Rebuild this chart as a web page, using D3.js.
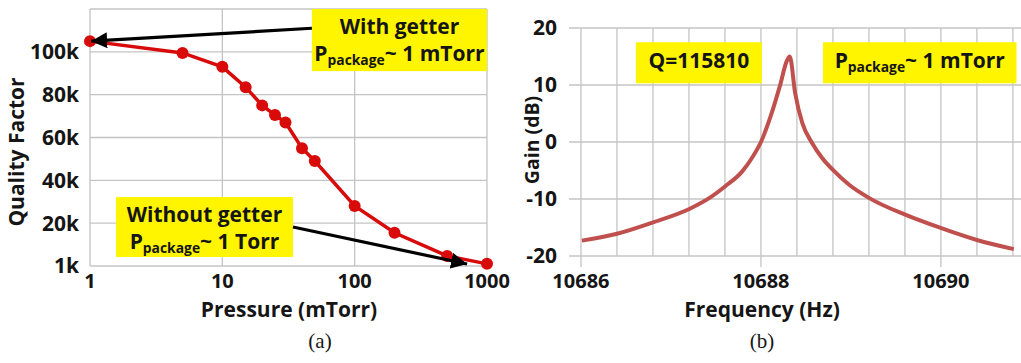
<!DOCTYPE html>
<html>
<head>
<meta charset="utf-8">
<script src="https://cdn.jsdelivr.net/npm/d3@7"></script>
<style>
  body { margin: 0; background: #fff; }
  svg text { font-family: "Open Sans", Lato, sans-serif; font-weight: bold; fill: #151515; }
  .cap { font-family: "Liberation Serif", "DejaVu Serif", serif; font-weight: normal; }
</style>
</head>
<body>
<svg id="chart" width="1021" height="363"></svg>
<script>
// (a) quality factor vs pressure
var pressure = [1, 5, 10, 15, 20, 25, 30, 40, 50, 100, 200, 500, 1000];
var quality = [105000, 99500, 93000, 83500, 75000, 70500, 67000, 55000, 49000, 28000, 15500, 4700, 1000];
var qTicks = [0, 20000, 40000, 60000, 80000, 100000, 120000];
var qTickLabels = ['1k', '20k', '40k', '60k', '80k', '100k', ''];
var pTicks = [1, 10, 100, 1000];

// (b) gain vs frequency
var freq = [10686.01, 10686.4, 10686.8, 10687.21, 10687.42, 10687.6, 10687.79, 10687.9, 10688.0,
            10688.12, 10688.21, 10688.29, 10688.32, 10688.38, 10688.46, 10688.57, 10688.68,
            10688.8, 10688.98, 10689.2, 10689.61, 10690.0, 10690.4, 10690.81];
var gain = [-17.3, -16.1, -14.1, -11.7, -9.9, -7.8, -5.2, -2.8, 0,
            5.1, 9.8, 14.3, 15.0, 8.6, 3.3, -0.2, -2.8,
            -4.9, -7.5, -9.8, -12.8, -15.1, -17.2, -18.8];
var gainTicks = [-20, -10, 0, 10, 20];
var freqTicks = [10686, 10688, 10690];

var svg = d3.select('#chart');
var YELLOW = '#fff500';
var GRID = '#c4c4c4';
var FS = 21;
var TICK_FS = 20;

svg.append('defs').append('marker')
    .attr('id', 'head')
    .attr('viewBox', '0 0 10 10')
    .attr('refX', 10).attr('refY', 5)
    .attr('markerWidth', 5).attr('markerHeight', 5)
    .attr('markerUnits', 'strokeWidth')
    .attr('orient', 'auto')
  .append('path').attr('d', 'M0,0L10,5L0,10z').attr('fill', '#000');

// helper for the "Ppackage~ ..." label
function pLabel(sel, tail) {
    sel.append('tspan').text('P');
    sel.append('tspan').attr('font-size', '0.66em').attr('dy', 4).text('package');
    sel.append('tspan').attr('dy', -4).text('~ ' + tail);
}

// ---------- chart (a) ----------
var xA = d3.scaleLog().domain([1, 1000]).range([90, 487]);
var yA = d3.scaleLinear().domain([0, 120000]).range([266, 9]);
var gA = svg.append('g');

gA.selectAll('.hg').data(qTicks).enter().append('line')
    .attr('x1', xA(1)).attr('x2', xA(1000))
    .attr('y1', d => yA(d)).attr('y2', d => yA(d))
    .attr('stroke', GRID).attr('stroke-width', 1.3);
gA.selectAll('.vg').data(pTicks).enter().append('line')
    .attr('x1', d => xA(d)).attr('x2', d => xA(d))
    .attr('y1', yA(0)).attr('y2', yA(120000))
    .attr('stroke', GRID).attr('stroke-width', 1.3);

gA.selectAll('.yl').data(qTicks).enter().append('text')
    .attr('x', 79).attr('y', d => yA(d)).attr('dy', '0.35em')
    .attr('text-anchor', 'end').attr('font-size', FS)
    .text((d, i) => qTickLabels[i]);
gA.selectAll('.xl').data(pTicks).enter().append('text')
    .attr('x', d => xA(d)).attr('y', 281).attr('dy', '0.35em')
    .attr('text-anchor', 'middle').attr('font-size', TICK_FS)
    .text(d => d);

gA.append('text').attr('x', 289).attr('y', 310).attr('dy', '0.35em')
    .attr('text-anchor', 'middle').attr('font-size', FS).text('Pressure (mTorr)');
gA.append('text').attr('transform', 'translate(17,152)rotate(-90)').attr('dy', '0.35em')
    .attr('text-anchor', 'middle').attr('font-size', FS).text('Quality Factor');
gA.append('text').attr('class', 'cap').attr('x', 320).attr('y', 341).attr('dy', '0.35em')
    .attr('text-anchor', 'middle').attr('font-size', 21).text('(a)');

var lineA = d3.line().x((d, i) => xA(pressure[i])).y(d => yA(d));
gA.append('path').datum(quality)
    .attr('d', lineA).attr('fill', 'none')
    .attr('stroke', '#d80a0a').attr('stroke-width', 3.5);
gA.selectAll('.pt').data(quality).enter().append('circle')
    .attr('cx', (d, i) => xA(pressure[i])).attr('cy', d => yA(d))
    .attr('r', 6).attr('fill', '#d80a0a');

// annotation boxes (a)
var boxA1 = {x0: 47.5, x1: 1000, y0: 120000, y1: 91000};
var boxA2 = {x0: 1.57, x1: 34.2, y0: 32200, y1: 4200};
[boxA1, boxA2].forEach(function(b) {
    gA.append('rect')
        .attr('x', xA(b.x0)).attr('y', yA(b.y0))
        .attr('width', xA(b.x1) - xA(b.x0)).attr('height', yA(b.y1) - yA(b.y0))
        .attr('fill', YELLOW);
});
gA.append('text').attr('text-anchor', 'middle').attr('font-size', FS)
    .attr('x', (xA(boxA1.x0) + xA(boxA1.x1)) / 2).attr('y', 34).text('With getter');
var t2 = gA.append('text').attr('text-anchor', 'middle').attr('font-size', FS)
    .attr('x', (xA(boxA1.x0) + xA(boxA1.x1)) / 2).attr('y', 61);
pLabel(t2, '1 mTorr');
gA.append('text').attr('text-anchor', 'middle').attr('font-size', FS)
    .attr('x', (xA(boxA2.x0) + xA(boxA2.x1)) / 2).attr('y', 222).text('Without getter');
var t4 = gA.append('text').attr('text-anchor', 'middle').attr('font-size', FS)
    .attr('x', (xA(boxA2.x0) + xA(boxA2.x1)) / 2).attr('y', 249);
pLabel(t4, '1 Torr');

var arrows = [
    {from: [47.5, 111000], to: [1.02, 105000]},
    {from: [34.2, 18200], to: [707, 930]}
];
gA.selectAll('.arr').data(arrows).enter().append('line')
    .attr('x1', d => xA(d.from[0])).attr('y1', d => yA(d.from[1]))
    .attr('x2', d => xA(d.to[0])).attr('y2', d => yA(d.to[1]))
    .attr('stroke', '#000').attr('stroke-width', 3.2)
    .attr('marker-end', 'url(#head)');

// ---------- chart (b) ----------
var xB = d3.scaleLinear().domain([10685.867, 10690.89]).range([569, 1021]);
var yB = d3.scaleLinear().domain([-20, 20]).range([256, 28]);
var gB = svg.append('g');

var minor = d3.range(0, 13).map(i => 10686 + i * 0.4);
gB.selectAll('.vg').data(minor).enter().append('line')
    .attr('x1', d => xB(d)).attr('x2', d => xB(d))
    .attr('y1', yB(20)).attr('y2', yB(-20))
    .attr('stroke', GRID).attr('stroke-width', 1.3);
gB.selectAll('.tk').data(freqTicks).enter().append('line')
    .attr('x1', d => xB(d)).attr('x2', d => xB(d))
    .attr('y1', yB(-20)).attr('y2', yB(-20) + 11)
    .attr('stroke', GRID).attr('stroke-width', 1.3);
gB.selectAll('.hg').data(gainTicks).enter().append('line')
    .attr('x1', xB.range()[0]).attr('x2', xB.range()[1])
    .attr('y1', d => yB(d)).attr('y2', d => yB(d))
    .attr('stroke', GRID).attr('stroke-width', 1.3);

gB.selectAll('.yl').data(gainTicks).enter().append('text')
    .attr('x', 557).attr('y', d => yB(d)).attr('dy', '0.35em')
    .attr('text-anchor', 'end').attr('font-size', FS)
    .text(d => d);
gB.selectAll('.xl').data(freqTicks).enter().append('text')
    .attr('x', d => xB(d)).attr('y', 281).attr('dy', '0.35em')
    .attr('text-anchor', 'middle').attr('font-size', TICK_FS)
    .text(d => d);
gB.append('text').attr('x', 762).attr('y', 310).attr('dy', '0.35em')
    .attr('text-anchor', 'middle').attr('font-size', FS).text('Frequency (Hz)');
gB.append('text').attr('transform', 'translate(532,140)rotate(-90)').attr('dy', '0.35em')
    .attr('text-anchor', 'middle').attr('font-size', 19.5).text('Gain (dB)');
gB.append('text').attr('class', 'cap').attr('x', 762).attr('y', 341).attr('dy', '0.35em')
    .attr('text-anchor', 'middle').attr('font-size', 21).text('(b)');

var boxB1 = {x0: 10686.61, x1: 10688.01, y0: 17.5, y1: 10.3};
var boxB2 = {x0: 10688.69, x1: 10690.84, y0: 17.5, y1: 10.3};
[boxB1, boxB2].forEach(function(b) {
    gB.append('rect')
        .attr('x', xB(b.x0)).attr('y', yB(b.y0))
        .attr('width', xB(b.x1) - xB(b.x0)).attr('height', yB(b.y1) - yB(b.y0))
        .attr('fill', YELLOW);
});
gB.append('text').attr('text-anchor', 'middle').attr('font-size', FS)
    .attr('x', (xB(boxB1.x0) + xB(boxB1.x1)) / 2).attr('y', yB(14.2)).attr('dy', '0.35em')
    .text('Q=115810');
var t6 = gB.append('text').attr('text-anchor', 'middle').attr('font-size', FS)
    .attr('x', (xB(boxB2.x0) + xB(boxB2.x1)) / 2).attr('y', yB(14.2)).attr('dy', '0.35em');
pLabel(t6, '1 mTorr');

var lineB = d3.line().x((d, i) => xB(freq[i])).y(d => yB(d)).curve(d3.curveMonotoneX);
gB.append('path').datum(gain)
    .attr('d', lineB).attr('fill', 'none')
    .attr('stroke', '#c0504d').attr('stroke-width', 4);
</script>
</body>
</html>
